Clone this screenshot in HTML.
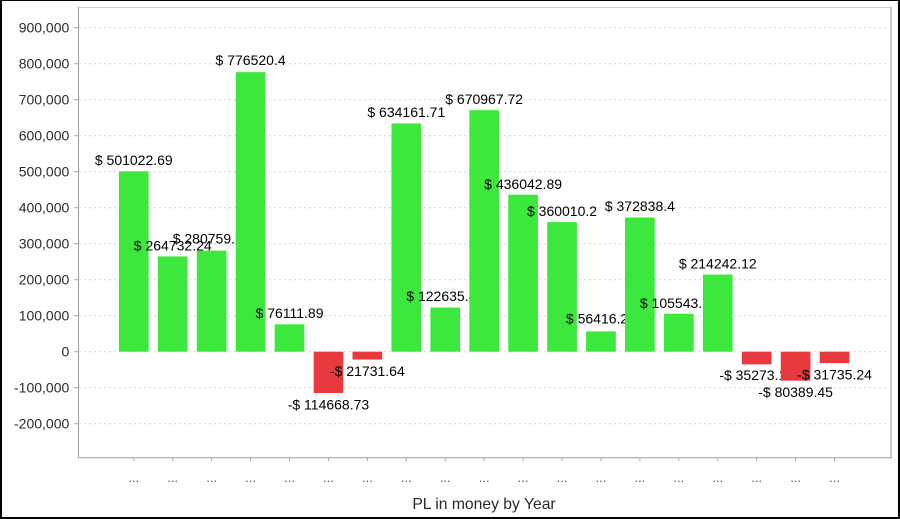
<!DOCTYPE html>
<html><head><meta charset="utf-8"><style>
html,body{margin:0;padding:0;background:#fff;}
svg{display:block;}
text{font-family:"Liberation Sans",Arial,sans-serif;}
</style></head><body>
<svg width="900" height="519" viewBox="0 0 900 519" xmlns="http://www.w3.org/2000/svg">
<rect x="0" y="0" width="900" height="519" fill="#fff"/>
<!-- outer border -->
<rect x="0" y="0" width="900" height="1" fill="#000"/>
<rect x="0" y="0" width="2" height="519" fill="#000"/>
<rect x="898" y="0" width="2" height="519" fill="#000"/>
<rect x="0" y="517" width="900" height="2" fill="#000"/>

<!-- gridlines -->
<g stroke="#d2d2d2" stroke-width="1" stroke-dasharray="2,3">
<line x1="79" y1="27.7" x2="889" y2="27.7"/>
<line x1="79" y1="63.7" x2="889" y2="63.7"/>
<line x1="79" y1="99.7" x2="889" y2="99.7"/>
<line x1="79" y1="135.7" x2="889" y2="135.7"/>
<line x1="79" y1="171.7" x2="889" y2="171.7"/>
<line x1="79" y1="207.7" x2="889" y2="207.7"/>
<line x1="79" y1="243.7" x2="889" y2="243.7"/>
<line x1="79" y1="279.7" x2="889" y2="279.7"/>
<line x1="79" y1="315.7" x2="889" y2="315.7"/>
<line x1="79" y1="351.7" x2="889" y2="351.7"/>
<line x1="79" y1="387.7" x2="889" y2="387.7"/>
<line x1="79" y1="423.7" x2="889" y2="423.7"/>
</g>

<!-- plot outline -->
<line x1="78" y1="7.5" x2="892" y2="7.5" stroke="#cfcfcf" stroke-width="1"/>
<line x1="891" y1="7" x2="891" y2="458" stroke="#c8c8c8" stroke-width="2"/>
<line x1="78.5" y1="7" x2="78.5" y2="458" stroke="#a8a8a8" stroke-width="1.2"/>
<line x1="78" y1="457.7" x2="892" y2="457.7" stroke="#a8a8a8" stroke-width="1.2"/>

<!-- y ticks & labels -->
<g stroke="#a8a8a8" stroke-width="1">
<line x1="74" y1="27.7" x2="78" y2="27.7"/>
<line x1="74" y1="63.7" x2="78" y2="63.7"/>
<line x1="74" y1="99.7" x2="78" y2="99.7"/>
<line x1="74" y1="135.7" x2="78" y2="135.7"/>
<line x1="74" y1="171.7" x2="78" y2="171.7"/>
<line x1="74" y1="207.7" x2="78" y2="207.7"/>
<line x1="74" y1="243.7" x2="78" y2="243.7"/>
<line x1="74" y1="279.7" x2="78" y2="279.7"/>
<line x1="74" y1="315.7" x2="78" y2="315.7"/>
<line x1="74" y1="351.7" x2="78" y2="351.7"/>
<line x1="74" y1="387.7" x2="78" y2="387.7"/>
<line x1="74" y1="423.7" x2="78" y2="423.7"/>
</g>
<g font-size="14" fill="#2a2a2a" text-anchor="end">
<text x="69.3" y="32.6">900,000</text>
<text x="69.3" y="68.6">800,000</text>
<text x="69.3" y="104.6">700,000</text>
<text x="69.3" y="140.6">600,000</text>
<text x="69.3" y="176.6">500,000</text>
<text x="69.3" y="212.6">400,000</text>
<text x="69.3" y="248.6">300,000</text>
<text x="69.3" y="284.6">200,000</text>
<text x="69.3" y="320.6">100,000</text>
<text x="69.3" y="356.6">0</text>
<text x="69.3" y="392.6">-100,000</text>
<text x="69.3" y="428.6">-200,000</text>
</g>

<!-- x ticks -->
<g stroke="#a8a8a8" stroke-width="1">
<line x1="133.8" y1="458" x2="133.8" y2="461"/>
<line x1="172.73" y1="458" x2="172.73" y2="461"/>
<line x1="211.66" y1="458" x2="211.66" y2="461"/>
<line x1="250.59" y1="458" x2="250.59" y2="461"/>
<line x1="289.52" y1="458" x2="289.52" y2="461"/>
<line x1="328.45" y1="458" x2="328.45" y2="461"/>
<line x1="367.38" y1="458" x2="367.38" y2="461"/>
<line x1="406.31" y1="458" x2="406.31" y2="461"/>
<line x1="445.24" y1="458" x2="445.24" y2="461"/>
<line x1="484.17" y1="458" x2="484.17" y2="461"/>
<line x1="523.1" y1="458" x2="523.1" y2="461"/>
<line x1="562.03" y1="458" x2="562.03" y2="461"/>
<line x1="600.96" y1="458" x2="600.96" y2="461"/>
<line x1="639.89" y1="458" x2="639.89" y2="461"/>
<line x1="678.82" y1="458" x2="678.82" y2="461"/>
<line x1="717.75" y1="458" x2="717.75" y2="461"/>
<line x1="756.68" y1="458" x2="756.68" y2="461"/>
<line x1="795.61" y1="458" x2="795.61" y2="461"/>
<line x1="834.54" y1="458" x2="834.54" y2="461"/>
</g>
<g font-size="13" fill="#555" text-anchor="middle">
<text x="133.8" y="482">...</text>
<text x="172.73" y="482">...</text>
<text x="211.66" y="482">...</text>
<text x="250.59" y="482">...</text>
<text x="289.52" y="482">...</text>
<text x="328.45" y="482">...</text>
<text x="367.38" y="482">...</text>
<text x="406.31" y="482">...</text>
<text x="445.24" y="482">...</text>
<text x="484.17" y="482">...</text>
<text x="523.1" y="482">...</text>
<text x="562.03" y="482">...</text>
<text x="600.96" y="482">...</text>
<text x="639.89" y="482">...</text>
<text x="678.82" y="482">...</text>
<text x="717.75" y="482">...</text>
<text x="756.68" y="482">...</text>
<text x="795.61" y="482">...</text>
<text x="834.54" y="482">...</text>
</g>
<text x="484" y="509" font-size="15.7" fill="#2a2a2a" text-anchor="middle">PL in money by Year</text>

<!-- bars + labels, in draw order -->
<g font-size="14" fill="#000" text-anchor="middle">
<rect x="118.95" y="171.33" width="29.7" height="180.37" fill="#3de83d"/>
<text x="133.8" y="165.0">$ 501022.69</text>
<rect x="157.88" y="256.40" width="29.7" height="95.30" fill="#3de83d"/>
<text x="172.73" y="250.6">$ 264732.24</text>
<rect x="196.81" y="250.63" width="29.7" height="101.07" fill="#3de83d"/>
<text x="211.66" y="243.5">$ 280759.53</text>
<rect x="235.74" y="72.15" width="29.7" height="279.55" fill="#3de83d"/>
<text x="250.59" y="65.0">$ 776520.4</text>
<rect x="274.67" y="324.30" width="29.7" height="27.40" fill="#3de83d"/>
<text x="289.52" y="317.8">$ 76111.89</text>
<rect x="313.60" y="351.70" width="29.7" height="41.28" fill="#e8393f"/>
<text x="328.45" y="409.4">-$ 114668.73</text>
<rect x="352.53" y="351.70" width="29.7" height="7.82" fill="#e8393f"/>
<text x="367.38" y="376.0">-$ 21731.64</text>
<rect x="391.46" y="123.40" width="29.7" height="228.30" fill="#3de83d"/>
<text x="406.31" y="117.2">$ 634161.71</text>
<rect x="430.39" y="307.55" width="29.7" height="44.15" fill="#3de83d"/>
<text x="445.24" y="301.0">$ 122635.48</text>
<rect x="469.32" y="110.15" width="29.7" height="241.55" fill="#3de83d"/>
<text x="484.17" y="104.0">$ 670967.72</text>
<rect x="508.25" y="194.72" width="29.7" height="156.98" fill="#3de83d"/>
<text x="523.1" y="189.0">$ 436042.89</text>
<rect x="547.18" y="222.10" width="29.7" height="129.60" fill="#3de83d"/>
<text x="562.03" y="216.0">$ 360010.2</text>
<rect x="586.11" y="331.39" width="29.7" height="20.31" fill="#3de83d"/>
<text x="600.96" y="323.6">$ 56416.23</text>
<rect x="625.04" y="217.48" width="29.7" height="134.22" fill="#3de83d"/>
<text x="639.89" y="210.8">$ 372838.4</text>
<rect x="663.97" y="313.70" width="29.7" height="38.00" fill="#3de83d"/>
<text x="678.82" y="308.2">$ 105543.51</text>
<rect x="702.90" y="274.57" width="29.7" height="77.13" fill="#3de83d"/>
<text x="717.75" y="268.3">$ 214242.12</text>
<rect x="741.83" y="351.70" width="29.7" height="12.70" fill="#e8393f"/>
<text x="756.68" y="380.0">-$ 35273.16</text>
<rect x="780.76" y="351.70" width="29.7" height="28.94" fill="#e8393f"/>
<text x="795.61" y="396.8">-$ 80389.45</text>
<rect x="819.69" y="351.70" width="29.7" height="11.42" fill="#e8393f"/>
<text x="834.54" y="379.4">-$ 31735.24</text>
</g>
</svg>
</body></html>
